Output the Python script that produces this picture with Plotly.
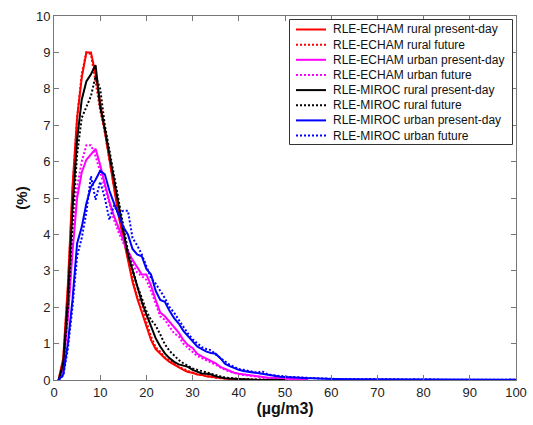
import plotly.graph_objects as go

# ---------------- data (x = 1, 2, 3 ... µg/m3) ----------------
series_names = [
    "RLE-ECHAM rural present-day",
    "RLE-ECHAM rural future",
    "RLE-ECHAM urban present-day",
    "RLE-ECHAM urban future",
    "RLE-MIROC rural present-day",
    "RLE-MIROC rural future",
    "RLE-MIROC urban present-day",
    "RLE-MIROC urban future",
]

echam_rural_present = [0, 0.6, 2.6, 5.3, 7.2, 8.3, 9.0, 9.0, 8.4, 7.6, 6.8, 6.0, 5.2, 4.5, 3.9,
                       3.3, 2.7, 2.25, 1.85, 1.5, 1.1, 0.85, 0.72, 0.6, 0.5, 0.42, 0.35, 0.28, 0.22,
                       0.2, 0.15, 0.14, 0.1, 0.08, 0.06, 0.05, 0.04, 0.03, 0.02, 0.02, 0.01, 0.01,
                       0.01, 0, 0, 0, 0, 0, 0, 0]
echam_rural_future = [0, 0.55, 2.5, 5.2, 7.2, 8.4, 9.0, 8.95, 8.2, 7.4, 6.8, 6.0, 5.3, 4.6, 3.9,
                      3.4, 2.8, 2.3, 2.1, 1.6, 1.2, 0.9, 0.78, 0.62, 0.52, 0.44, 0.36, 0.3, 0.25,
                      0.2, 0.16, 0.13, 0.1, 0.08, 0.06, 0.05, 0.04, 0.03, 0.02, 0.02, 0.01, 0.01,
                      0, 0, 0, 0, 0, 0, 0, 0]
echam_urban_present = [0, 0.35, 1.7, 3.5, 5.0, 5.7, 6.05, 6.2, 6.35, 5.9, 5.4, 4.9, 4.5, 4.15,
                       3.85, 3.55, 3.3, 3.1, 2.9, 2.9, 2.6, 2.2, 1.85, 1.75, 1.6, 1.42, 1.3, 1.1,
                       0.96, 0.88, 0.72, 0.65, 0.58, 0.52, 0.46, 0.36, 0.3, 0.25, 0.2, 0.17, 0.15,
                       0.13, 0.11, 0.09, 0.08, 0.07, 0.06, 0.05, 0.04, 0.03, 0.03, 0.02, 0.02,
                       0.01, 0.01]
echam_urban_future = [0, 0.35, 1.8, 3.8, 5.3, 6.0, 6.45, 6.45, 6.15, 5.7, 5.25, 4.8, 4.4, 4.05,
                      3.75, 3.45, 3.2, 2.95, 2.85, 2.75, 2.45, 2.1, 1.75, 1.65, 1.45, 1.28, 1.2,
                      1.0, 0.88, 0.78, 0.66, 0.6, 0.55, 0.48, 0.42, 0.34, 0.28, 0.23, 0.19, 0.16,
                      0.14, 0.12, 0.1, 0.09, 0.08, 0.06, 0.05, 0.04, 0.04, 0.03, 0.02, 0.02, 0.01]
miroc_rural_present = [0, 0.45, 2.2, 4.7, 6.6, 7.7, 8.2, 8.4, 8.65, 7.5, 6.9, 6.2, 5.4, 4.75, 4.1,
                       3.45, 3.0, 2.55, 2.15, 1.8, 1.45, 1.15, 0.92, 0.73, 0.6, 0.5, 0.43, 0.39,
                       0.36, 0.28, 0.22, 0.18, 0.17, 0.15, 0.1, 0.07, 0.05, 0.04, 0.03, 0.02,
                       0.02, 0.01, 0.01, 0, 0, 0, 0, 0, 0, 0]
miroc_rural_future = [0, 0.4, 2.0, 4.3, 6.2, 7.2, 7.5, 7.8, 8.35, 8.0, 7.0, 6.3, 5.6, 4.85, 4.15,
                      3.55, 3.05, 2.6, 2.25, 1.9, 1.65, 1.5, 1.25, 0.98, 0.8, 0.68, 0.55, 0.46,
                      0.38, 0.32, 0.28, 0.24, 0.2, 0.17, 0.12, 0.1, 0.07, 0.05, 0.04, 0.03, 0.02,
                      0.02, 0.01, 0, 0, 0, 0, 0, 0, 0]
miroc_urban_present = [0, 0.15, 1.0, 2.2, 3.75, 4.2, 4.85, 5.3, 5.5, 5.75, 5.65, 5.2, 4.85, 4.5,
                       4.2, 4.0, 3.6, 3.45, 3.4, 3.05, 2.9, 2.45, 2.2, 2.15, 1.9, 1.7, 1.55, 1.35,
                       1.2, 1.05, 0.92, 0.85, 0.78, 0.74, 0.72, 0.6, 0.45, 0.38, 0.32, 0.28, 0.25,
                       0.23, 0.2, 0.17, 0.15, 0.14, 0.12, 0.1, 0.09, 0.08, 0.07, 0.06, 0.06, 0.05,
                       0.05, 0.05, 0.04, 0.04, 0.03, 0.03, 0.03, 0.02, 0.03, 0.02, 0.02, 0.02,
                       0.03, 0.02, 0.02, 0.01, 0.02, 0.02, 0.01, 0.02, 0.01, 0.02, 0.01, 0.01,
                       0.02, 0.01, 0.01, 0.01, 0.02, 0.01, 0.01, 0.01, 0.01, 0.02, 0.01, 0.01,
                       0.01, 0.01, 0.01, 0.02, 0.01, 0.01, 0.01, 0.01, 0.01, 0.01]
miroc_urban_future = [0, 0.12, 0.85, 2.0, 3.4, 3.9, 4.6, 5.6, 4.95, 5.45, 5.0, 4.4, 4.8, 4.55,
                      4.65, 4.65, 3.9, 3.7, 3.45, 3.15, 2.8, 2.65, 2.45, 2.25, 2.0, 1.85, 1.65,
                      1.45, 1.28, 1.12, 1.0, 0.9, 0.85, 0.82, 0.7, 0.6, 0.5, 0.42, 0.36, 0.3,
                      0.28, 0.25, 0.22, 0.2, 0.24, 0.17, 0.14, 0.12, 0.11, 0.1, 0.08, 0.08, 0.07,
                      0.06, 0.06, 0.05, 0.05, 0.04, 0.04, 0.03, 0.03, 0.03, 0.02, 0.03, 0.02,
                      0.02, 0.02, 0.03, 0.02, 0.01, 0.02, 0.02, 0.01, 0.02, 0.02, 0.01, 0.01,
                      0.02, 0.01, 0.01, 0.02, 0.01, 0.01, 0.01, 0.01, 0.02, 0.01, 0.01, 0.01,
                      0.01, 0.01, 0.01, 0.01, 0.01, 0.01, 0.01, 0.01, 0.01, 0.01, 0.01]

series_values = [echam_rural_present, echam_rural_future, echam_urban_present, echam_urban_future,
                 miroc_rural_present, miroc_rural_future, miroc_urban_present, miroc_urban_future]

x_ticks = [0, 10, 20, 30, 40, 50, 60, 70, 80, 90, 100]
y_ticks = [0, 1, 2, 3, 4, 5, 6, 7, 8, 9, 10]
x_title = "(µg/m3)"
y_title = "(%)"

# ---------------- styles ----------------
colors = ["#ff0000", "#ff0000", "#ff00ff", "#ff00ff", "#000000", "#000000", "#0000ff", "#0000ff"]
dashes = ["solid", "2px,2px", "solid", "2px,2px", "solid", "2px,2px", "solid", "2px,2px"]

W, H = 533, 425
ML, MR, MT, MB = 54, 17, 16, 45
PW, PH = W - ML - MR, H - MT - MB


def paper_x(px):
    return (px - ML) / PW


def paper_y(py):
    return (H - MB - py) / PH


fig = go.Figure()
for name, vals, c, d in zip(series_names, series_values, colors, dashes):
    xs = list(range(1, len(vals) + 1))
    fig.add_trace(go.Scatter(x=xs, y=vals, mode="lines", name=name,
                             line=dict(color=c, width=2, dash=d), showlegend=False))

axis_common = dict(showline=True, linecolor="#777777", linewidth=1, mirror="ticks",
                   ticks="inside", ticklen=5, tickcolor="#777777", showgrid=False,
                   zeroline=False, tickfont=dict(family="Liberation Sans, Arial", size=13,
                                                 color="#222222"))

fig.update_xaxes(range=[0, 100], tickvals=x_ticks, ticktext=[str(v) for v in x_ticks],
                 title=dict(text="<b>" + x_title + "</b>", standoff=4,
                            font=dict(family="Liberation Sans, Arial", size=16, color="#111111")),
                 **axis_common)
fig.update_yaxes(range=[0, 10], tickvals=y_ticks, ticktext=[str(v) for v in y_ticks],
                 title=dict(text="<b>" + y_title + "</b>", standoff=4,
                            font=dict(family="Liberation Sans, Arial", size=15, color="#111111")),
                 **axis_common)

# ---------------- legend box (drawn in paper coordinates) ----------------
shapes = [dict(type="rect", xref="paper", yref="paper",
               x0=paper_x(289.5), x1=paper_x(512.5), y0=paper_y(144.5), y1=paper_y(19.5),
               line=dict(color="#333333", width=1), fillcolor="white", layer="above")]
annotations = []
row_y0, row_gap = 29.5, 15.15
for i, (name, c, d) in enumerate(zip(series_names, colors, dashes)):
    py = row_y0 + i * row_gap
    shapes.append(dict(type="line", xref="paper", yref="paper",
                       x0=paper_x(296), x1=paper_x(326), y0=paper_y(py), y1=paper_y(py),
                       line=dict(color=c, width=2, dash=d), layer="above"))
    annotations.append(dict(xref="paper", yref="paper", x=paper_x(330.5), y=paper_y(py),
                            xanchor="left", yanchor="middle", text=name, showarrow=False,
                            font=dict(family="Liberation Sans, Arial", size=12, color="#111111")))

fig.update_layout(width=W, height=H, margin=dict(l=ML, r=MR, t=MT, b=MB, autoexpand=False),
                  paper_bgcolor="white", plot_bgcolor="white", shapes=shapes,
                  annotations=annotations, showlegend=False)

fig.write_html("out.html")
